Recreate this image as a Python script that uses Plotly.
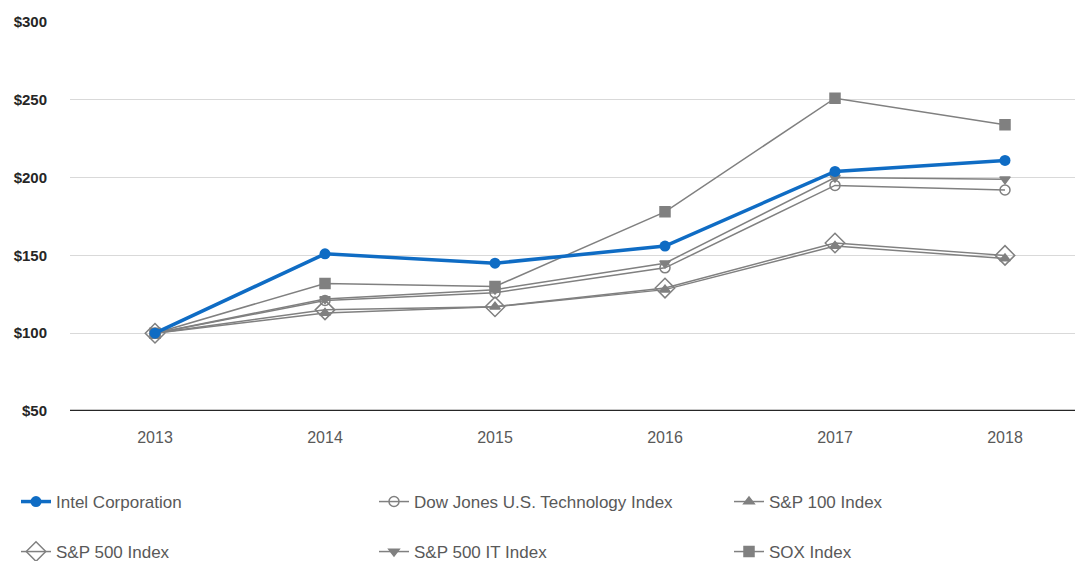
import plotly.graph_objects as go

years = [2013, 2014, 2015, 2016, 2017, 2018]
intel = [100, 151, 145, 156, 204, 211]
dow_jones_tech = [100, 121, 126, 142, 195, 192]
sp100 = [100, 113, 117, 128, 156, 148]
sp500 = [100, 115, 117, 129, 158, 150]
sp500_it = [100, 122, 128, 145, 200, 199]
sox = [100, 132, 130, 178, 251, 234]
y_ticks = [50, 100, 150, 200, 250, 300]
y_tick_labels = ["$50", "$100", "$150", "$200", "$250", "$300"]

GRAY = "#808080"
BLUE = "#0f6cc4"
FONT = "Liberation Sans, Arial, sans-serif"

# legend slot positions (left x, center y) in pixels
legend_slots = {
    "legend": (22, 502), "legend2": (380, 502), "legend3": (735, 502),
    "legend4": (22, 552), "legend5": (380, 552), "legend6": (735, 552),
}

fig = go.Figure()

def gray_trace(name, vals, symbol, size, legend, lw=1.5):
    fig.add_trace(go.Scatter(
        x=years, y=vals, name=name, mode="lines+markers",
        line=dict(color=GRAY, width=lw),
        marker=dict(symbol=symbol, size=size, color=GRAY,
                    line=dict(color=GRAY, width=1.5)),
        legend=legend, showlegend=True,
    ))

gray_trace("S&P 100 Index", sp100, "triangle-up", 9, "legend3")
gray_trace("S&P 500 Index", sp500, "diamond-open", 15, "legend4")
gray_trace("Dow Jones U.S. Technology Index", dow_jones_tech, "circle-open", 10, "legend2")
gray_trace("S&P 500 IT Index", sp500_it, "triangle-down", 9, "legend5")
gray_trace("SOX Index", sox, "square", 10, "legend6")

fig.add_trace(go.Scatter(
    x=years, y=intel, name="Intel Corporation", mode="lines+markers",
    line=dict(color=BLUE, width=3.5),
    marker=dict(symbol="circle", size=11, color=BLUE),
    legend="legend", showlegend=True,
))

W, H = 1075, 561
legends = {}
for key, (lx, ly) in legend_slots.items():
    legends[key] = dict(
        orientation="h", xanchor="left", x=(lx - 6) / W,
        yanchor="middle", y=1 - ly / H,
        xref="container", yref="container",
        font=dict(family=FONT, size=17, color="#595959"),
        bgcolor="rgba(0,0,0,0)",
    )

fig.update_layout(
    width=W, height=H, showlegend=True,
    margin=dict(l=70, r=0, t=22, b=150, autoexpand=False),
    paper_bgcolor="white", plot_bgcolor="white",
    font=dict(family=FONT, color="#595959"),
    xaxis=dict(
        range=[2012.5, 2012.5 + 1005 / 170],
        tickvals=years, ticktext=[str(y) for y in years],
        showgrid=False, zeroline=False,
        showline=False, ticks="", automargin=False,
        ticklabelstandoff=15,
        tickfont=dict(family=FONT, size=16, color="#595959"),
    ),
    yaxis=dict(
        range=[50, 300], tickvals=y_ticks, ticktext=y_tick_labels,
        showgrid=True, gridcolor="#d9d9d9", gridwidth=1,
        zeroline=False, showline=False, ticks="", automargin=False,
        ticklabelstandoff=22,
        tickfont=dict(family=FONT, size=15, color="#262626", weight="bold"),
    ),
    shapes=[dict(type="line", xref="paper", yref="y", x0=0, x1=1, y0=50, y1=50,
                 line=dict(color="#262626", width=2.5), layer="above")],
    **legends,
)

fig.write_html(
    "out.html",
    config={"displayModeBar": False},
    post_script="document.body.style.margin='0';document.body.style.overflow='hidden';",
)
